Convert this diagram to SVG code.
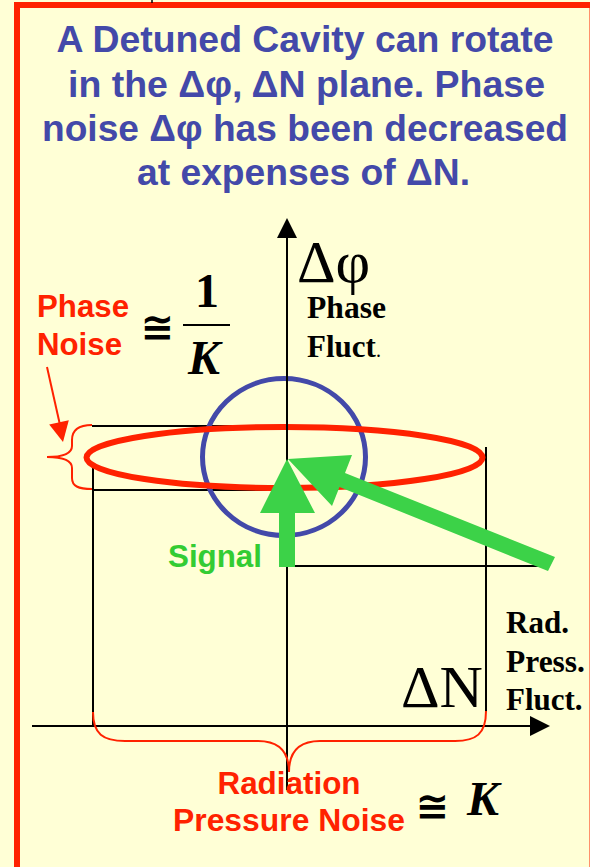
<svg xmlns="http://www.w3.org/2000/svg" width="590" height="867" viewBox="0 0 590 867">
  <defs>
    <style>
      .title { font-family: "Liberation Sans", Arial, sans-serif; font-weight: bold; font-size: 36px; fill: #4349A9; text-anchor: middle; }
      .red { font-family: "Liberation Sans", Arial, sans-serif; font-weight: bold; font-size: 31px; fill: #FF2200; }
      .green { font-family: "Liberation Sans", Arial, sans-serif; font-weight: bold; font-size: 31px; fill: #33CC33; }
      .serifb { font-family: "Liberation Serif", "Times New Roman", serif; font-weight: bold; font-size: 31px; fill: #000; }
      .serif { font-family: "Liberation Serif", "Times New Roman", serif; font-size: 60px; fill: #000; }
      .math { font-family: "Liberation Serif", "Times New Roman", serif; font-weight: bold; font-size: 48px; fill: #000; }
      .cong { font-family: "DejaVu Sans", sans-serif; font-weight: bold; font-size: 40px; fill: #000; }
      .thin { stroke: #000; stroke-width: 2; fill: none; }
      .brace { stroke: #FF2200; stroke-width: 2; fill: none; }
      .arrowfill { fill: #3CD248; }
    </style>
  </defs>

  <rect x="0" y="0" width="590" height="867" fill="#FFFFD6"/>
  <rect id="frame" x="17" y="5" width="575.5" height="900" fill="none" stroke="#FF2200" stroke-width="6"/>
  <line x1="152" y1="0" x2="152" y2="3" stroke="#000" stroke-width="1.5"/>

  <g id="title">
    <text class="title" x="305" y="52" textLength="497" lengthAdjust="spacingAndGlyphs">A Detuned Cavity can rotate</text>
    <text class="title" x="306.5" y="97" textLength="477" lengthAdjust="spacingAndGlyphs">in the Δφ, ΔN plane. Phase</text>
    <text class="title" x="305" y="141" textLength="526" lengthAdjust="spacingAndGlyphs">noise Δφ has been decreased</text>
    <text class="title" x="303.5" y="185" textLength="333" lengthAdjust="spacingAndGlyphs">at expenses of ΔN.</text>
  </g>

  <g id="guides">
    <line class="thin" x1="92" y1="426" x2="287" y2="426"/>
    <line class="thin" x1="92" y1="490" x2="287" y2="490"/>
    <line class="thin" x1="93" y1="463" x2="93" y2="726"/>
    <line class="thin" x1="486" y1="447" x2="486" y2="712"/>
    <line class="thin" x1="287" y1="566" x2="546" y2="566"/>
  </g>

  <g id="circle">
    <ellipse cx="284" cy="457" rx="81.5" ry="78.5" fill="none" stroke="#4349A9" stroke-width="5"/>
  </g>

  <g id="ellipse">
    <ellipse cx="284.5" cy="457.5" rx="198" ry="30.5" fill="none" stroke="#FF2200" stroke-width="6"/>
  </g>

  <g id="connectors">
    <line class="thin" x1="287" y1="236" x2="287" y2="790"/>
    <polygon points="287,218 277,238 297,238" fill="#000"/>
    <line class="thin" x1="32" y1="726" x2="532" y2="726"/>
    <polygon points="550,726 530,716 530,736" fill="#000"/>
    <line x1="47" y1="367" x2="60" y2="425" stroke="#FF2200" stroke-width="2"/>
    <polygon points="63,442 68.8,420.3 49.2,424.5" fill="#FF2200"/>
    <path class="brace" d="M92,425 C78,425 72,430 72,440 L72,446 C72,453 65,457 47,457 C65,457 72,461 72,468 L72,478 C72,486 78,489 92,489"/>
    <path class="brace" d="M93,712 C93,734 103,741 125,741 L258,741 C279,741 289,752 289,772 C289,752 299,741 320,741 L455,741 C476,741 486,734 486,711"/>
  </g>

  <g id="arrows">
    <polygon class="arrowfill" points="287,459 315,513 295,513 295,567 279,567 279,513 260,513"/>
    <polygon class="arrowfill" points="288,459 352,455 345,473 555,557 548,571 339.5,487 332,506"/>
  </g>

  <g id="phase-noise-label">
    <text class="red" x="37" y="317" textLength="92" lengthAdjust="spacingAndGlyphs">Phase</text>
    <text class="red" x="37" y="355" textLength="85" lengthAdjust="spacingAndGlyphs">Noise</text>
    <text class="cong" x="157.5" y="341" text-anchor="middle">≅</text>
    <text class="math" x="207" y="307" text-anchor="middle">1</text>
    <line x1="183" y1="325" x2="230" y2="325" stroke="#000" stroke-width="2"/>
    <text class="math" x="204" y="374" text-anchor="middle" font-style="italic">K</text>
  </g>

  <g id="phase-axis-label">
    <text class="serif" x="297" y="282">Δφ</text>
    <text class="serifb" x="307" y="318" textLength="79" lengthAdjust="spacingAndGlyphs">Phase</text>
    <text class="serifb" x="307" y="357">Fluct<tspan font-weight="normal" font-size="20px">.</tspan></text>
  </g>

  <g id="signal-label">
    <text class="green" x="168" y="567" textLength="94" lengthAdjust="spacingAndGlyphs">Signal</text>
  </g>

  <g id="n-axis-label">
    <text class="serif" x="401" y="707" font-size="62px" textLength="82" lengthAdjust="spacingAndGlyphs">ΔN</text>
    <text class="serifb" x="506" y="633">Rad.</text>
    <text class="serifb" x="506" y="672" textLength="79" lengthAdjust="spacingAndGlyphs">Press.</text>
    <text class="serifb" x="506" y="710">Fluct.</text>
  </g>

  <g id="rad-noise-label">
    <text class="red" x="289" y="794" text-anchor="middle" textLength="143" lengthAdjust="spacingAndGlyphs">Radiation</text>
    <text class="red" x="289" y="831" text-anchor="middle" textLength="232" lengthAdjust="spacingAndGlyphs">Pressure Noise</text>
    <text class="cong" x="432.5" y="820" text-anchor="middle">≅</text>
    <text class="math" x="483" y="815" text-anchor="middle" font-style="italic" font-size="52px">K</text>
  </g>
</svg>
